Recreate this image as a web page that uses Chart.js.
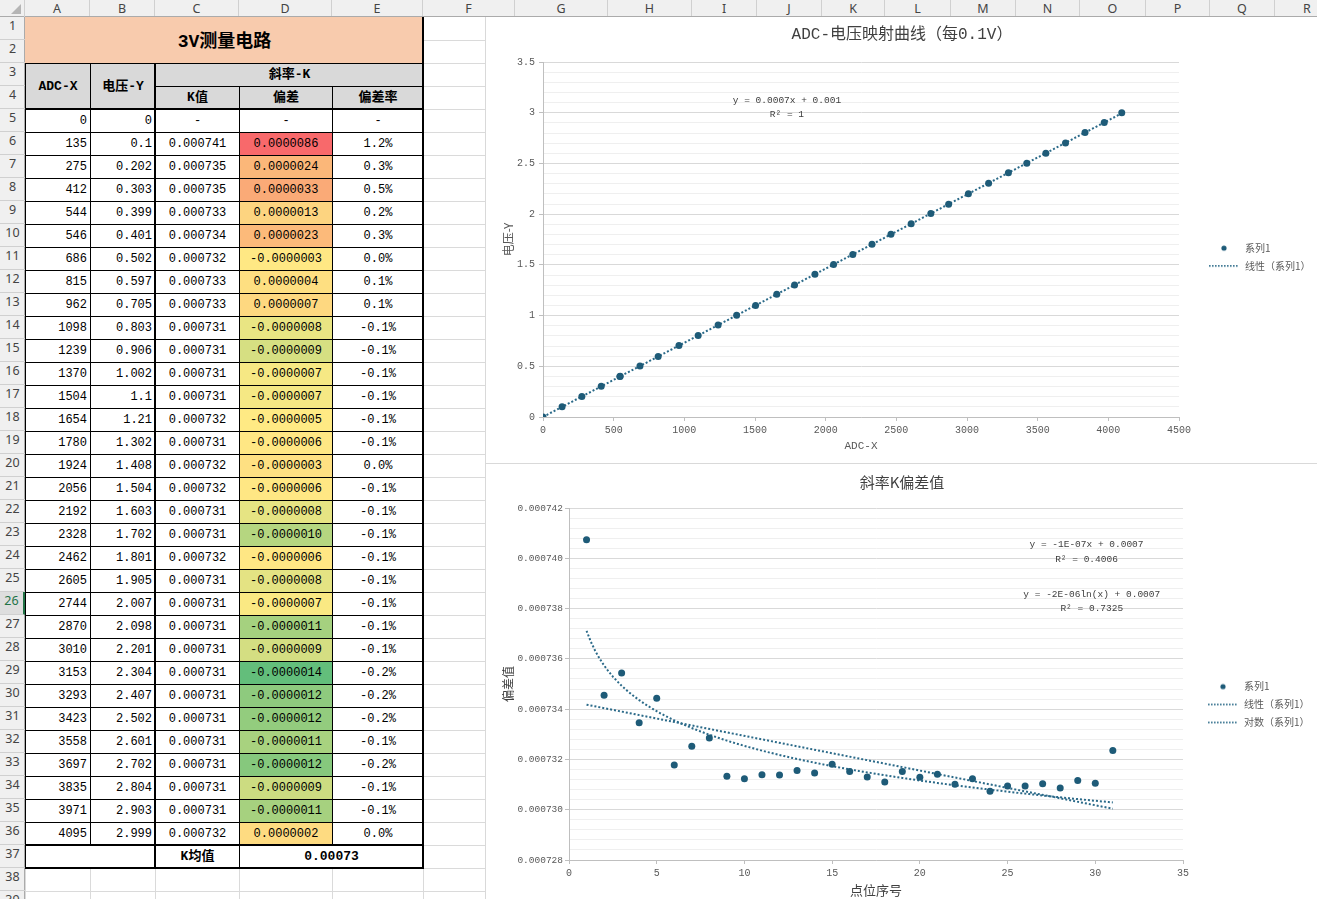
<!DOCTYPE html>
<html lang="zh-CN">
<head>
<meta charset="utf-8">
<title>3V测量电路</title>
<script src="https://cdn.jsdelivr.net/npm/chart.js@4.4.1/dist/chart.umd.min.js"></script>
<style>
html, body { margin: 0; padding: 0; }
body { width: 1317px; height: 899px; overflow: hidden; position: relative; background: #fff;
  font-family: "Liberation Mono", "Noto Sans CJK SC", monospace; }
.abs { position: absolute; box-sizing: border-box; white-space: nowrap; overflow: hidden; }
.chartbox { position: absolute; background: #fff; border-left: 1px solid #d9d9d9; border-bottom: 1px solid #d9d9d9; }
</style>
</head>
<body>
<div id="sheet"></div>
<div class="chartbox" style="left:485px;top:17px;width:832px;height:446px;"><canvas id="adcChart"></canvas></div>
<div class="chartbox" style="left:485px;top:464px;width:832px;height:435px;"><canvas id="kChart"></canvas></div>
<script>
// ---- data ----
var adcX = [0, 135, 275, 412, 544, 546, 686, 815, 962, 1098, 1239, 1370, 1504, 1654, 1780, 1924,
            2056, 2192, 2328, 2462, 2605, 2744, 2870, 3010, 3153, 3293, 3423, 3558, 3697, 3835, 3971, 4095];
var voltY = [0, 0.1, 0.202, 0.303, 0.399, 0.401, 0.502, 0.597, 0.705, 0.803, 0.906, 1.002, 1.1, 1.21, 1.302, 1.408,
             1.504, 1.603, 1.702, 1.801, 1.905, 2.007, 2.098, 2.201, 2.304, 2.407, 2.502, 2.601, 2.702, 2.804, 2.903, 2.999];
var pointNo = [1, 2, 3, 4, 5, 6, 7, 8, 9, 10, 11, 12, 13, 14, 15, 16, 17, 18, 19, 20,
               21, 22, 23, 24, 25, 26, 27, 28, 29, 30, 31];
var kValue = [0.00074074, 0.00073455, 0.00073544, 0.00073346, 0.00073443, 0.00073178, 0.00073252, 0.00073285,
              0.00073133, 0.00073123, 0.00073139, 0.00073138, 0.00073156, 0.00073146, 0.00073181, 0.00073152,
              0.00073130, 0.00073110, 0.00073152, 0.00073129, 0.00073141, 0.00073101, 0.00073123, 0.00073073,
              0.00073094, 0.00073094, 0.00073103, 0.00073086, 0.00073116, 0.00073105, 0.00073236];
var kDev = [0.0000086, 0.0000024, 0.0000033, 0.0000013, 0.0000023, -0.0000003, 0.0000004, 0.0000007,
            -0.0000008, -0.0000009, -0.0000007, -0.0000007, -0.0000005, -0.0000006, -0.0000003, -0.0000006,
            -0.0000008, -0.0000010, -0.0000006, -0.0000008, -0.0000007, -0.0000011, -0.0000009, -0.0000014,
            -0.0000012, -0.0000012, -0.0000011, -0.0000012, -0.0000009, -0.0000011, 0.0000002];
var kRate = [1.2, 0.3, 0.5, 0.2, 0.3, 0.0, 0.1, 0.1, -0.1, -0.1, -0.1, -0.1, -0.1, -0.1, 0.0, -0.1,
             -0.1, -0.1, -0.1, -0.1, -0.1, -0.1, -0.1, -0.2, -0.2, -0.2, -0.1, -0.2, -0.1, -0.1, 0.0];
var kMean = '0.00073';
var adcTrendText = ['y = 0.0007x + 0.001', 'R² = 1'];
var kLinearText = ['y = -1E-07x + 0.0007', 'R² = 0.4006'];
var kLogText = ['y = -2E-06ln(x) + 0.0007', 'R² = 0.7325'];

// colour scale of the 偏差 column, as shown
var devColors = ['#F8696B', '#FBB779', '#FAAA77', '#FDD480', '#FCBA7A', '#FFE884', '#FEDF81', '#FED880',
                 '#E9E583', '#D6DF82', '#F6E884', '#F5E884', '#FFEA84', '#FFE784', '#FEE082', '#FFE784',
                 '#E6E483', '#B5D680', '#FFE784', '#E4E383', '#FAE983', '#A5D17F', '#D4DE82', '#63BE7B',
                 '#8ECA7E', '#93CC7E', '#A8D27F', '#86C87D', '#CCDC81', '#A6D17F', '#FEDB81'];

// ---- spreadsheet ----
var colX = [25, 90, 155, 239, 332, 423, 515, 608, 692, 757, 822, 885, 951, 1016, 1080, 1146, 1210, 1275, 1340];
var colNames = 'ABCDEFGHIJKLMNOPQR'.split('');
var sheet = document.getElementById('sheet');
var hdrFont = 'font:12.5px "Noto Sans","DejaVu Sans",sans-serif;color:#444;text-align:center;';

function rowTop(r) { return 17 + (r - 1) * 23; }

function box(x, y, w, h, css, text) {
  var d = document.createElement('div');
  d.className = 'abs';
  d.style.cssText += 'left:' + x + 'px;top:' + y + 'px;width:' + w + 'px;height:' + h + 'px;' + (css || '');
  if (text !== undefined) d.textContent = text;
  sheet.appendChild(d);
  return d;
}

function cell(c1, r1, c2, r2, text, css) {
  var x = colX[c1], y = rowTop(r1);
  var h = rowTop(r2 + 1) - y;
  return box(x, y, colX[c2 + 1] - x + 1, h + 1,
    'background:#fff;border:1px solid #000;font-size:12px;padding:0 3px;line-height:' + (h - 1) + 'px;' + (css || ''), text);
}

// gridlines
for (var i = 0; i < colX.length; i++) box(colX[i], 17, 1, 882, 'background:#dadada');
for (var r = 1; r <= 39; r++) box(25, rowTop(r + 1), 1300, 1, 'background:#dadada');

// headers
box(0, 0, 1317, 17, 'background:#f0f0f0;border-bottom:1px solid #ababab');
for (var c = 0; c < colNames.length; c++) {
  box(colX[c], 0, colX[c + 1] - colX[c], 16, 'border-right:1px solid #d0d0d0;line-height:16px;' + hdrFont, colNames[c]);
}
box(0, 0, 25, 17, 'border-right:1px solid #d0d0d0');
box(11, 4, 10, 10, 'border-left:10px solid transparent;border-bottom:10px solid #b5b5b5');
box(0, 17, 25, 882, 'background:#f0f0f0;border-right:1px solid #ababab');
for (var r = 1; r <= 39; r++) {
  var extra = r === 26 ? 'background:#dedede;color:#217346;border-right:2px solid #217346;' : '';
  box(0, rowTop(r), 25, 23, 'border-bottom:1px solid #d0d0d0;line-height:25px;' + hdrFont + extra, String(r));
}

// table body
var hdrCss = 'background:#D9D9D9;font-weight:bold;text-align:center;font-size:13px;';
cell(0, 1, 4, 2, '3V测量电路', 'background:#F8CBAD;border:none;font-size:18px;font-weight:bold;text-align:center;padding-top:3px;');
cell(0, 3, 0, 4, 'ADC-X', hdrCss);
cell(1, 3, 1, 4, '电压-Y', hdrCss);
cell(2, 3, 4, 3, '斜率-K', hdrCss);
cell(2, 4, 2, 4, 'K值', hdrCss);
cell(3, 4, 3, 4, '偏差', hdrCss);
cell(4, 4, 4, 4, '偏差率', hdrCss);

var rightCss = 'text-align:right;';
var midCss = 'text-align:center;';
for (var n = 0; n < adcX.length; n++) {
  var row = 5 + n;
  cell(0, row, 0, row, String(adcX[n]), rightCss);
  cell(1, row, 1, row, String(voltY[n]), rightCss);
  if (n === 0) {
    cell(2, row, 2, row, '-', midCss);
    cell(3, row, 3, row, '-', midCss);
    cell(4, row, 4, row, '-', midCss);
  } else {
    cell(2, row, 2, row, kValue[n - 1].toFixed(6), midCss);
    cell(3, row, 3, row, kDev[n - 1].toFixed(7), midCss + 'background:' + devColors[n - 1] + ';');
    cell(4, row, 4, row, kRate[n - 1].toFixed(1) + '%', midCss);
  }
}
cell(0, 37, 1, 37, '');
cell(2, 37, 2, 37, 'K均值', midCss + 'font-weight:bold;font-size:13px;');
cell(3, 37, 4, 37, kMean, midCss + 'font-weight:bold;font-size:13px;');

// medium borders
box(422, 17, 2, 852, 'background:#000');
box(154, 63, 2, 806, 'background:#000');
box(25, 108, 399, 2, 'background:#000');
box(25, 844, 399, 2, 'background:#000');
box(25, 867, 399, 2, 'background:#000');

// ---- charts ----
var markColor = '#1e5b78';
var trendColor = '#2b6a89';
var textColor = '#595959';
var monoFont = '"Liberation Mono", "Noto Sans CJK SC", monospace';
var cjkFont = '"Noto Sans CJK SC", "Noto Sans", sans-serif';

function linearFit(xs, ys) {
  var n = xs.length, sx = 0, sy = 0, sxx = 0, sxy = 0;
  for (var i = 0; i < n; i++) {
    sx += xs[i]; sy += ys[i]; sxx += xs[i] * xs[i]; sxy += xs[i] * ys[i];
  }
  var m = (n * sxy - sx * sy) / (n * sxx - sx * sx);
  return { m: m, b: (sy - m * sx) / n };
}

function legendIcon(width, kind) {
  var cv = document.createElement('canvas');
  cv.width = width;
  cv.height = 8;
  var g = cv.getContext('2d');
  if (kind === 'dot') {
    g.fillStyle = markColor;
    g.beginPath();
    g.arc(width - 16, 4, 2.6, 0, Math.PI * 2);
    g.fill();
  } else {
    g.fillStyle = trendColor;
    for (var x = width - 31; x < width - 1; x += 3) g.fillRect(x, 3, 1.6, 1.6);
  }
  return cv;
}

function legendWithIcons(icons) {
  return function (chart) {
    var items = Chart.defaults.plugins.legend.labels.generateLabels(chart);
    items.forEach(function (it, i) { it.pointStyle = icons[i]; });
    return items;
  };
}

var trendText = {
  id: 'trendText',
  afterDatasetsDraw: function (chart, args, opts) {
    var ctx = chart.ctx, sx = chart.scales.x, sy = chart.scales.y;
    ctx.save();
    ctx.font = '9.5px "Liberation Mono", monospace';
    ctx.fillStyle = '#404040';
    ctx.textAlign = 'center';
    ctx.textBaseline = 'middle';
    opts.items.forEach(function (it) {
      ctx.fillText(it.text, sx.getPixelForValue(it.x), sy.getPixelForValue(it.y));
    });
    ctx.restore();
  }
};

function isMajorV(v) { return Math.round(v * 10) % 5 === 0; }
function isMajorK(v) { return Math.round(v * 1e7) % 20 === 0; }

// chart 1: ADC vs voltage
var adcFit = linearFit(adcX, voltY);
var adcTrend = [
  { x: adcX[0], y: adcFit.m * adcX[0] + adcFit.b },
  { x: adcX[adcX.length - 1], y: adcFit.m * adcX[adcX.length - 1] + adcFit.b }
];

new Chart(document.getElementById('adcChart'), {
  type: 'scatter',
  data: {
    datasets: [{
      label: '系列1',
      data: adcX.map(function (x, i) { return { x: x, y: voltY[i] }; }),
      backgroundColor: markColor,
      borderColor: markColor,
      pointRadius: 3.5,
      pointBorderWidth: 0
    }, {
      label: '线性（系列1）',
      data: adcTrend,
      showLine: true,
      borderColor: trendColor,
      backgroundColor: trendColor,
      borderWidth: 2,
      borderDash: [2, 2],
      pointRadius: 0
    }]
  },
  options: {
    responsive: true,
    maintainAspectRatio: false,
    animation: false,
    events: [],
    plugins: {
      title: {
        display: true,
        text: 'ADC-电压映射曲线（每0.1V）',
        color: '#404040',
        font: { family: monoFont, size: 16, weight: 'normal' },
        padding: { top: 8.4, bottom: 17.4 }
      },
      legend: {
        position: 'right',
        maxWidth: 139,
        title: { display: true, text: ' ', font: { size: 1 }, padding: { top: 0, bottom: 33 } },
        labels: {
          usePointStyle: true,
          pointStyleWidth: 53,
          padding: 8,
          color: textColor,
          font: { family: cjkFont, size: 10 },
          generateLabels: legendWithIcons([legendIcon(53, 'dot'), legendIcon(53, 'line')])
        }
      },
      tooltip: { enabled: false },
      trendText: {
        items: [
          { x: 1726, y: 3.12, text: adcTrendText[0] },
          { x: 1726, y: 2.98, text: adcTrendText[1] }
        ]
      }
    },
    scales: {
      x: {
        type: 'linear',
        min: 0,
        max: 4500,
        ticks: {
          stepSize: 500, color: textColor, font: { family: monoFont, size: 10 }, padding: 3,
          callback: function (v) { return String(v); }
        },
        grid: { drawOnChartArea: false, color: '#bfbfbf', tickLength: 4 },
        border: { color: '#bfbfbf' },
        title: { display: true, text: 'ADC-X', color: textColor, font: { family: monoFont, size: 11 }, padding: { top: 0, bottom: 10.4 } },
        afterFit: function (s) { s.height = 46; }
      },
      y: {
        min: 0,
        max: 3.5,
        ticks: {
          stepSize: 0.1,
          autoSkip: false,
          color: textColor,
          font: { family: monoFont, size: 10 },
          padding: 4,
          callback: function (v) { return isMajorV(v) ? String(Math.round(v * 10) / 10) : ''; }
        },
        grid: {
          tickLength: 4,
          color: function (c) { return c.tick && isMajorV(c.tick.value) ? '#d9d9d9' : '#efefef'; },
          tickColor: function (c) { return c.tick && isMajorV(c.tick.value) ? '#bfbfbf' : 'rgba(0,0,0,0)'; }
        },
        border: { color: '#bfbfbf' },
        title: { display: true, text: '电压-Y', color: textColor, font: { family: cjkFont, size: 12 }, padding: { top: 14.8, bottom: 0 } },
        afterFit: function (s) { s.width = 57; }
      }
    }
  },
  plugins: [trendText]
});

// chart 2: slope K per point
var kLin = linearFit(pointNo, kValue);
var kLog = linearFit(pointNo.map(Math.log), kValue);
var first = pointNo[0], last = pointNo[pointNo.length - 1];
var kLinTrend = [
  { x: first, y: kLin.m * first + kLin.b },
  { x: last, y: kLin.m * last + kLin.b }
];
var kLogTrend = [];
for (var t = first; t <= last + 1e-9; t += 0.25) {
  kLogTrend.push({ x: t, y: kLog.m * Math.log(t) + kLog.b });
}

new Chart(document.getElementById('kChart'), {
  type: 'scatter',
  data: {
    datasets: [{
      label: '系列1',
      data: pointNo.map(function (p, i) { return { x: p, y: kValue[i] }; }),
      backgroundColor: markColor,
      borderColor: markColor,
      pointRadius: 3.5,
      pointBorderWidth: 0
    }, {
      label: '线性（系列1）',
      data: kLinTrend,
      showLine: true,
      borderColor: trendColor,
      backgroundColor: trendColor,
      borderWidth: 2,
      borderDash: [2, 2],
      pointRadius: 0
    }, {
      label: '对数（系列1）',
      data: kLogTrend,
      showLine: true,
      borderColor: trendColor,
      backgroundColor: trendColor,
      borderWidth: 2,
      borderDash: [2, 2],
      pointRadius: 0
    }]
  },
  options: {
    responsive: true,
    maintainAspectRatio: false,
    animation: false,
    events: [],
    plugins: {
      title: {
        display: true,
        text: '斜率K偏差值',
        color: '#404040',
        font: { family: cjkFont, size: 15, weight: 'normal' },
        padding: { top: 9, bottom: 17 }
      },
      legend: {
        position: 'right',
        maxWidth: 135,
        title: { display: true, text: ' ', font: { size: 1 }, padding: { top: 0, bottom: 45 } },
        labels: {
          usePointStyle: true,
          pointStyleWidth: 48,
          padding: 8,
          color: textColor,
          font: { family: cjkFont, size: 10 },
          generateLabels: legendWithIcons([legendIcon(48, 'dot'), legendIcon(48, 'line'), legendIcon(48, 'line')])
        }
      },
      tooltip: { enabled: false },
      trendText: {
        items: [
          { x: 29.5, y: 0.00074053, text: kLinearText[0] },
          { x: 29.5, y: 0.00073997, text: kLinearText[1] },
          { x: 29.8, y: 0.00073858, text: kLogText[0] },
          { x: 29.8, y: 0.00073802, text: kLogText[1] }
        ]
      }
    },
    scales: {
      x: {
        type: 'linear',
        min: 0,
        max: 35,
        ticks: {
          stepSize: 5, color: textColor, font: { family: monoFont, size: 10 }, padding: 3,
          callback: function (v) { return String(v); }
        },
        grid: { drawOnChartArea: false, color: '#bfbfbf', tickLength: 4 },
        border: { color: '#bfbfbf' },
        title: { display: true, text: '点位序号', color: '#404040', font: { family: cjkFont, size: 13 }, padding: { top: 0, bottom: 1.2 } },
        afterFit: function (s) { s.height = 39; }
      },
      y: {
        min: 0.000728,
        max: 0.000742,
        ticks: {
          stepSize: 0.0000004,
          autoSkip: false,
          color: textColor,
          font: { family: monoFont, size: 9.5 },
          padding: 2,
          callback: function (v) { return isMajorK(v) ? v.toFixed(6) : ''; }
        },
        grid: {
          tickLength: 4,
          color: function (c) { return c.tick && isMajorK(c.tick.value) ? '#d9d9d9' : '#efefef'; },
          tickColor: function (c) { return c.tick && isMajorK(c.tick.value) ? '#bfbfbf' : 'rgba(0,0,0,0)'; }
        },
        border: { color: '#bfbfbf' },
        title: { display: true, text: '偏差值', color: '#404040', font: { family: cjkFont, size: 12 }, padding: { top: 14.8, bottom: 0 } },
        afterFit: function (s) { s.width = 83; }
      }
    }
  },
  plugins: [trendText]
});
</script>
</body>
</html>
